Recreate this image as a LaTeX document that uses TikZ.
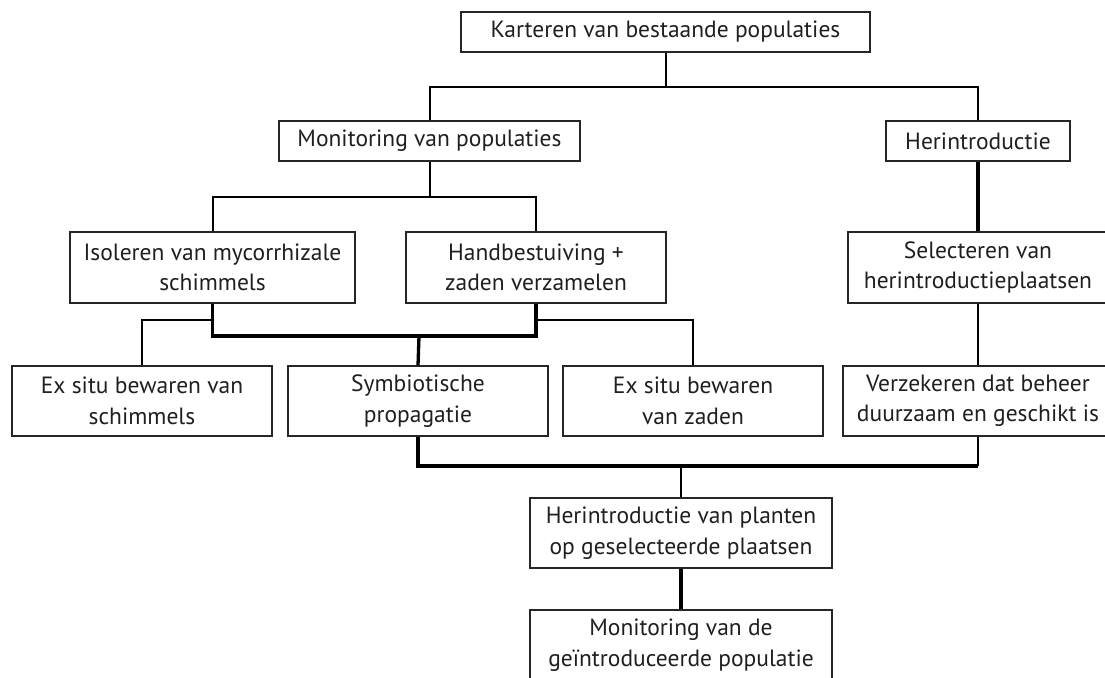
\documentclass[tikz,border=0pt]{standalone}
\usepackage{fontspec}
\setmainfont{PT Sans}
\begin{document}
\begin{tikzpicture}[x=1pt,y=-1pt,
  box/.style={draw=black!85, line width=1.3pt, text=black!88, align=center, inner sep=0pt,
    font=\fontsize{23.5}{30.5}\selectfont},
  thin/.style={line width=1.5pt},
  med/.style={line width=2pt},
  thick/.style={line width=3.3pt},
]
\useasboundingbox (0,0) rectangle (1105,677);
\clip (0,0) rectangle (1105,677);
\node[box, minimum width=409pt, minimum height=40pt] (kart) at (665.5,32) {Karteren van bestaande populaties};
\node[box, minimum width=301pt, minimum height=40pt] (mon) at (429.5,141) {Monitoring van populaties};
\node[box, minimum width=184pt, minimum height=40pt] (her) at (978,141) {Herintroductie};
\node[box, minimum width=285pt, minimum height=71pt] (iso) at (212.5,267.5) {Isoleren van mycorrhizale\\schimmels};
\node[box, minimum width=260pt, minimum height=71pt] (hand) at (536,267.5) {Handbestuiving +\\zaden verzamelen};
\node[box, minimum width=260pt, minimum height=71pt] (sel) at (978,267.5) {Selecteren van\\herintroductieplaatsen};
\node[box, minimum width=260pt, minimum height=70pt] (exs) at (142,401) {Ex situ bewaren van\\schimmels};
\node[box, minimum width=260pt, minimum height=70pt] (sym) at (418,401) {Symbiotische\\propagatie};
\node[box, minimum width=260pt, minimum height=70pt] (exz) at (693,401) {Ex situ bewaren\\van zaden};
\node[box, minimum width=270pt, minimum height=70pt] (ver) at (978,401) {Verzekeren dat beheer\\duurzaam en geschikt is};
\node[box, minimum width=302pt, minimum height=70pt] (hp) at (681,533) {Herintroductie van planten\\op geselecteerde plaatsen};
\node[box, minimum width=302pt, minimum height=70pt] (md) at (681,645) {Monitoring van de\\geïntroduceerde populatie};

\coordinate (j1) at (666,87);
\coordinate (j2) at (430,197);
\coordinate (j3) at (419,336);
\coordinate (j4) at (0,320);
\coordinate (j5) at (681,466);

\draw[med] (kart.south) -- (kart.south |- j1);
\draw[med] (mon.north) -- (mon.north |- j1) -- (her.north |- j1) -- (her.north);
\draw[med] (mon.south) -- (mon.south |- j2);
\draw[med] (iso.north) -- (iso.north |- j2) -- (hand.north |- j2) -- (hand.north);
\draw[thick] (her.south) -- (sel.north);
\draw[thick, line join=miter] (iso.south) -- (iso.south |- j3) -- (hand.south |- j3) -- (hand.south);
\draw[thick] (j3) -- (sym.north);
\draw[thin] (iso.south |- j4) -- (exs.north |- j4) -- (exs.north);
\draw[thin] (hand.south |- j4) -- (exz.north |- j4) -- (exz.north);
\draw[thin] (sel.south) -- (ver.north);
\draw[thick, line join=miter] (sym.south) -- (sym.south |- j5) -- (ver.south |- j5);
\draw[med] (ver.south) -- (ver.south |- j5);
\draw[med] (j5) -- (hp.north);
\draw[thick] (hp.south) -- (md.north);
\end{tikzpicture}
\end{document}
